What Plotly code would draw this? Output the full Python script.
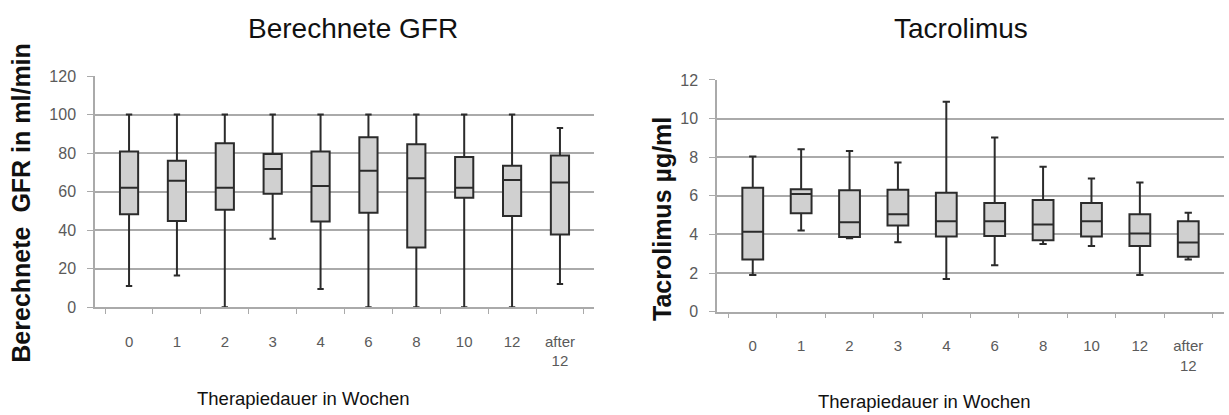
import plotly.graph_objects as go

W, H = 1229, 415

categories = ["0", "1", "2", "3", "4", "6", "8", "10", "12", "after<br>12"]

# Berechnete GFR (ml/min)
gfr_low = [11, 16.5, 0, 35.5, 9.5, 0, 0, 0, 0, 12]
gfr_q1 = [48.3, 44.8, 50.6, 58.9, 44.5, 49.1, 31.0, 56.8, 47.3, 37.8]
gfr_med = [62, 65.6, 62, 71.7, 63, 70.9, 67, 62, 66, 64.7]
gfr_q3 = [80.8, 76, 85.1, 79.5, 80.8, 88.3, 84.6, 78, 73.5, 78.8]
gfr_high = [100, 100, 100, 100, 100, 100, 100, 100, 100, 93]

# Tacrolimus (µg/ml)
tac_low = [1.9, 4.2, 3.8, 3.6, 1.7, 2.4, 3.5, 3.4, 1.9, 2.7]
tac_q1 = [2.7, 5.1, 3.87, 4.47, 3.9, 3.92, 3.7, 3.9, 3.4, 2.85]
tac_med = [4.14, 6.09, 4.63, 5.05, 4.68, 4.68, 4.52, 4.68, 4.05, 3.59]
tac_q3 = [6.42, 6.34, 6.29, 6.32, 6.16, 5.63, 5.79, 5.63, 5.05, 4.68]
tac_high = [8.03, 8.41, 8.32, 7.73, 10.87, 9.02, 7.5, 6.9, 6.69, 5.13]

gfr_yticks = [0, 20, 40, 60, 80, 100, 120]
tac_yticks = [0, 2, 4, 6, 8, 10, 12]

NARROW = "Liberation Sans Narrow, Arial Narrow, Liberation Sans, Arial, sans-serif"
BOLD = "Liberation Sans, Arial, sans-serif"
BOX_FILL = "#d0d0d0"
BOX_LINE = "#2b2b2b"
GRID = "#aaaaaa"
TICKC = "#5a5a5a"

fig = go.Figure()

fig.add_trace(go.Box(
    x=categories, q1=gfr_q1, median=gfr_med, q3=gfr_q3,
    lowerfence=gfr_low, upperfence=gfr_high,
    xaxis="x", yaxis="y", width=0.38, whiskerwidth=0.35,
    fillcolor=BOX_FILL, line=dict(color=BOX_LINE, width=2),
    boxpoints=False, hoverinfo="skip", showlegend=False,
))
fig.add_trace(go.Box(
    x=categories, q1=tac_q1, median=tac_med, q3=tac_q3,
    lowerfence=tac_low, upperfence=tac_high,
    xaxis="x2", yaxis="y2", width=0.43, whiskerwidth=0.35,
    fillcolor=BOX_FILL, line=dict(color=BOX_LINE, width=2),
    boxpoints=False, hoverinfo="skip", showlegend=False,
))

xcommon = dict(
    type="category", categoryorder="array", categoryarray=categories,
    showgrid=False, showline=True, linecolor=GRID, linewidth=1.5,
    ticks="outside", tickson="boundaries", ticklen=5, tickcolor=GRID,
    tickfont=dict(family=NARROW, size=15, color=TICKC),
    ticklabelstandoff=20, zeroline=False, fixedrange=True,
)
ycommon = dict(
    showgrid=True, gridcolor=GRID, gridwidth=2,
    showline=True, linecolor=GRID, linewidth=1.5,
    ticks="outside", ticklen=6, tickcolor=GRID,
    tickfont=dict(family=NARROW, size=16, color=TICKC),
    ticklabelstandoff=8, zeroline=False, fixedrange=True,
)

fig.update_layout(
    width=W, height=H,
    margin=dict(l=0, r=0, t=0, b=0),
    paper_bgcolor="white", plot_bgcolor="white",
    xaxis=dict(domain=[95 / W, 594 / W], anchor="y", **xcommon),
    yaxis=dict(domain=[(H - 312) / H, (H - 71) / H], anchor="x",
               range=[0, 120], tickvals=gfr_yticks, **ycommon),
    xaxis2=dict(domain=[717 / W, 1224 / W], anchor="y2", **xcommon),
    yaxis2=dict(domain=[(H - 316.7) / H, (H - 75) / H], anchor="x2",
                range=[0, 12], tickvals=tac_yticks, **ycommon),
    annotations=[
        dict(text="Berechnete GFR", x=353 / W, y=(H - 21) / H, xref="paper", yref="paper",
             showarrow=False, xanchor="center", yanchor="middle",
             font=dict(family=NARROW, size=28, color="#111111")),
        dict(text="Tacrolimus", x=961 / W, y=(H - 21) / H, xref="paper", yref="paper",
             showarrow=False, xanchor="center", yanchor="middle",
             font=dict(family=NARROW, size=28, color="#111111")),
        dict(text="<b>Berechnete  GFR in ml/min</b>", x=21 / W, y=(H - 203) / H,
             xref="paper", yref="paper", showarrow=False, textangle=-90,
             xanchor="center", yanchor="middle",
             font=dict(family=BOLD, size=25, color="#111111")),
        dict(text="<b>Tacrolimus µg/ml</b>", x=662 / W, y=(H - 220) / H,
             xref="paper", yref="paper", showarrow=False, textangle=-90,
             xanchor="center", yanchor="middle",
             font=dict(family=BOLD, size=25, color="#111111")),
        dict(text="Therapiedauer in Wochen", x=303 / W, y=(H - 407) / H,
             xref="paper", yref="paper", showarrow=False,
             xanchor="center", yanchor="middle",
             font=dict(family=NARROW, size=18.5, color="#111111")),
        dict(text="Therapiedauer in Wochen", x=924 / W, y=(H - 410) / H,
             xref="paper", yref="paper", showarrow=False,
             xanchor="center", yanchor="middle",
             font=dict(family=NARROW, size=18.5, color="#111111")),
    ],
)

fig.write_html("out.html")
